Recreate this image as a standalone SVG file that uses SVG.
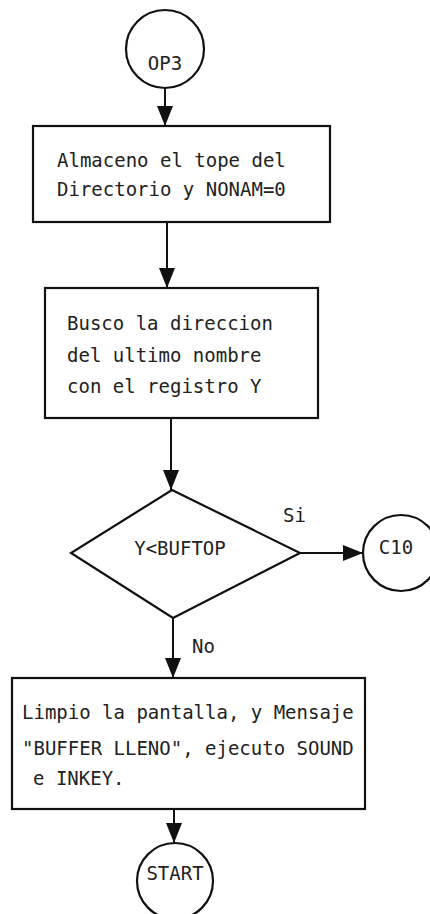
<svg xmlns="http://www.w3.org/2000/svg" width="430" height="914" viewBox="0 0 430 914">
<style>
.s{fill:#fff;stroke:#111;stroke-width:2.2}
.t{font-family:"DejaVu Sans Mono","Liberation Mono",monospace;font-size:19px;fill:#222}
.c{stroke:#111;stroke-width:2;fill:none}
</style>
<defs>
<marker id="ah" markerUnits="userSpaceOnUse" markerWidth="20" markerHeight="16" refX="20" refY="8" orient="auto">
<path d="M0,0 L20,8 L0,16 z" fill="#111"/>
</marker>
</defs>
<rect width="430" height="914" fill="#fff"/>
<g id="connectors">
<line class="c" x1="165" y1="88" x2="165" y2="126" marker-end="url(#ah)"/>
<line class="c" x1="167" y1="222" x2="167" y2="288" marker-end="url(#ah)"/>
<line class="c" x1="171" y1="418" x2="171" y2="490" marker-end="url(#ah)"/>
<line class="c" x1="300" y1="553" x2="363" y2="553" marker-end="url(#ah)"/>
<line class="c" x1="173" y1="618" x2="173" y2="678" marker-end="url(#ah)"/>
<line class="c" x1="174" y1="809" x2="174" y2="843" marker-end="url(#ah)"/>
<text class="t" x="283" y="522">Si</text>
<text class="t" x="192" y="653">No</text>
</g>
<g id="op3">
<circle class="s" cx="165" cy="49" r="39"/>
<text class="t" x="165" y="70" text-anchor="middle">OP3</text>
</g>
<g id="box1">
<rect class="s" x="33" y="126" width="297" height="96"/>
<text class="t" x="57" y="167">Almaceno el tope del</text>
<text class="t" x="57" y="196">Directorio y NONAM=0</text>
</g>
<g id="box2">
<rect class="s" x="45" y="288" width="273" height="130"/>
<text class="t" x="67" y="330">Busco la direccion</text>
<text class="t" x="67" y="362">del ultimo nombre</text>
<text class="t" x="67" y="393">con el registro Y</text>
</g>
<g id="decision">
<polygon class="s" points="172,490 300,553 173,618 71,553"/>
<text class="t" x="180" y="555" text-anchor="middle">Y&lt;BUFTOP</text>
</g>
<g id="c10">
<circle class="s" cx="401" cy="553" r="38"/>
<text class="t" x="396" y="554" text-anchor="middle">C10</text>
</g>
<g id="box3">
<rect class="s" x="12" y="678" width="353" height="131"/>
<text class="t" x="22" y="719">Limpio la pantalla, y Mensaje</text>
<text class="t" x="22" y="755">"BUFFER LLENO", ejecuto SOUND</text>
<text class="t" x="33" y="785">e INKEY.</text>
</g>
<g id="start">
<circle class="s" cx="175" cy="881" r="38"/>
<text class="t" x="175" y="880" text-anchor="middle">START</text>
</g>
</svg>
